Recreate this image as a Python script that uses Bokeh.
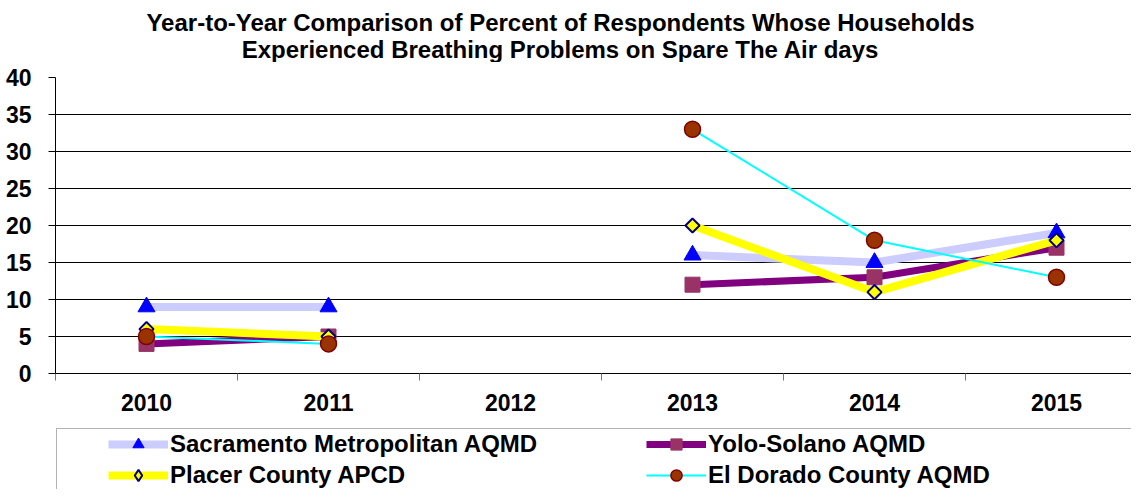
import numpy as np
from bokeh.plotting import figure
from bokeh.layouts import column
from bokeh.models import (ColumnDataSource, FixedTicker, Range1d, Legend, LegendItem,
                          Label, BoxAnnotation)
from bokeh.embed import file_html
from bokeh.resources import INLINE

# ---- data ----
years = ["2010", "2011", "2012", "2013", "2014", "2015"]
sacramento = [9, 9, np.nan, 16, 15, 19]
yolo_solano = [4, 5, np.nan, 12, 13, 17]
placer = [6, 5, np.nan, 20, 11, 18]
el_dorado = [5, 4, np.nan, 33, 18, 13]
series_names = ["Sacramento Metropolitan AQMD", "Yolo-Solano AQMD",
                "Placer County APCD", "El Dorado County AQMD"]
title_lines = ["Year-to-Year Comparison of Percent of Respondents Whose Households",
               "Experienced Breathing Problems on Spare The Air days"]
y_ticks = [0, 5, 10, 15, 20, 25, 30, 35, 40]

xc = [i + 0.5 for i in range(len(years))]
FONT = "Liberation Sans"
W = 1131


def bare(height):
    f = figure(width=W, height=height, output_backend="svg", toolbar_location=None,
               x_range=Range1d(0, 1), y_range=Range1d(0, 1), title=None,
               min_border_left=0, min_border_right=0, min_border_top=0,
               min_border_bottom=0)
    f.axis.visible = False
    f.grid.visible = False
    f.outline_line_color = None
    f.background_fill_color = "white"
    f.border_fill_color = "white"
    return f


# ---- title block ----
head = bare(62)
for txt, y in zip(title_lines, [40.5, 13.5]):
    head.add_layout(Label(x=505, y=y, x_units="screen", y_units="screen", text=txt,
                          text_align="center", text_baseline="middle",
                          text_font=FONT, text_font_size="24px",
                          text_font_style="bold", text_color="black"))

# ---- main chart ----
p = figure(width=W, height=358, output_backend="svg", toolbar_location=None,
           x_range=Range1d(0, 5.912), y_range=Range1d(0, 40),
           min_border_left=55, min_border_right=0, min_border_top=15,
           min_border_bottom=47, title=None)
p.outline_line_color = None
p.background_fill_color = "white"
p.border_fill_color = "white"

p.xaxis.ticker = FixedTicker(ticks=xc, minor_ticks=list(range(len(years) + 1)))
p.xaxis.major_label_overrides = {x: y for x, y in zip(xc, years)}
p.xaxis.major_tick_out = 0
p.xaxis.major_tick_in = 0
p.xaxis.minor_tick_out = 7
p.xaxis.minor_tick_in = 0
p.xaxis.minor_tick_line_color = "#777777"
p.xaxis.axis_line_color = "black"
p.xaxis.major_label_standoff = 13
p.xaxis.major_label_text_font = FONT
p.xaxis.major_label_text_font_size = "23px"
p.xaxis.major_label_text_font_style = "bold"
p.xaxis.major_label_text_color = "black"

p.yaxis.ticker = FixedTicker(ticks=y_ticks)
p.yaxis.major_tick_out = 7
p.yaxis.major_tick_in = 0
p.yaxis.minor_tick_line_color = None
p.yaxis.axis_line_color = "black"
p.yaxis.major_tick_line_color = "black"
p.yaxis.major_label_standoff = 17
p.yaxis.major_label_text_font = FONT
p.yaxis.major_label_text_font_size = "23px"
p.yaxis.major_label_text_font_style = "bold"
p.yaxis.major_label_text_color = "black"

p.xgrid.grid_line_color = None
p.ygrid.ticker = FixedTicker(ticks=y_ticks)
p.ygrid.grid_line_color = "black"
p.ygrid.grid_line_width = 1

styles = [
    dict(line=dict(line_color="#CCCCFF", line_width=8),
         mark=dict(marker="triangle", size=17, fill_color="#0000FF", line_color="#0000FF",
                   line_width=1),
         leg=dict(marker="triangle", size=13, fill_color="#0000FF", line_color="#0000FF",
                  line_width=1)),
    dict(line=dict(line_color="#800080", line_width=7),
         mark=dict(marker="square", size=15, fill_color="#993366", line_color="#993366",
                   line_width=1),
         leg=dict(marker="square", size=14, fill_color="#993366", line_color="#993366",
                  line_width=1)),
    dict(line=dict(line_color="#FFFF00", line_width=8),
         mark=dict(marker="square", angle=np.pi / 4, size=10, fill_color="#FFFF00",
                   line_color="#000080", line_width=2),
         leg=dict(marker="diamond", size=14, fill_color="#FFFF00", line_color="#000080",
                  line_width=2)),
    dict(line=dict(line_color="#00FFFF", line_width=2),
         mark=dict(marker="circle", size=16, fill_color="#993300", line_color="#800000",
                   line_width=1.5),
         leg=dict(marker="circle", size=12, fill_color="#993300", line_color="#800000",
                  line_width=1.5)),
]

for vals, st in zip([sacramento, yolo_solano, placer, el_dorado], styles):
    s = ColumnDataSource(dict(x=xc, y=vals))
    p.line("x", "y", source=s, **st["line"])
    p.scatter("x", "y", source=s, **st["mark"])

# ---- legend block (legend-only renderers with no visible points) ----
leg_fig = bare(69)
items = []
for name, st in zip(series_names, styles):
    e = ColumnDataSource(dict(x=[np.nan], y=[np.nan]))
    lr = leg_fig.line("x", "y", source=e, **st["line"])
    mr = leg_fig.scatter("x", "y", source=e, **st["leg"])
    items.append(LegendItem(label=name, renderers=[lr, mr]))

legend = Legend(items=items, orientation="horizontal", ncols=2, location=(53, 0),
                glyph_width=60, glyph_height=28, label_height=28, label_width=473,
                spacing=3, label_standoff=2, padding=0, margin=0,
                border_line_color=None, background_fill_alpha=0,
                label_text_font=FONT, label_text_font_size="24px",
                label_text_font_style="bold", label_text_color="black")
leg_fig.add_layout(legend, "center")
leg_fig.add_layout(BoxAnnotation(left=56, right=1133, top=8, bottom=120,
                                 left_units="canvas", right_units="canvas",
                                 top_units="canvas", bottom_units="canvas",
                                 fill_alpha=0, line_color="black", line_width=1,
                                 level="underlay"))

layout = column(head, p, leg_fig, spacing=0)
open("out.html", "w").write(file_html(layout, INLINE))
